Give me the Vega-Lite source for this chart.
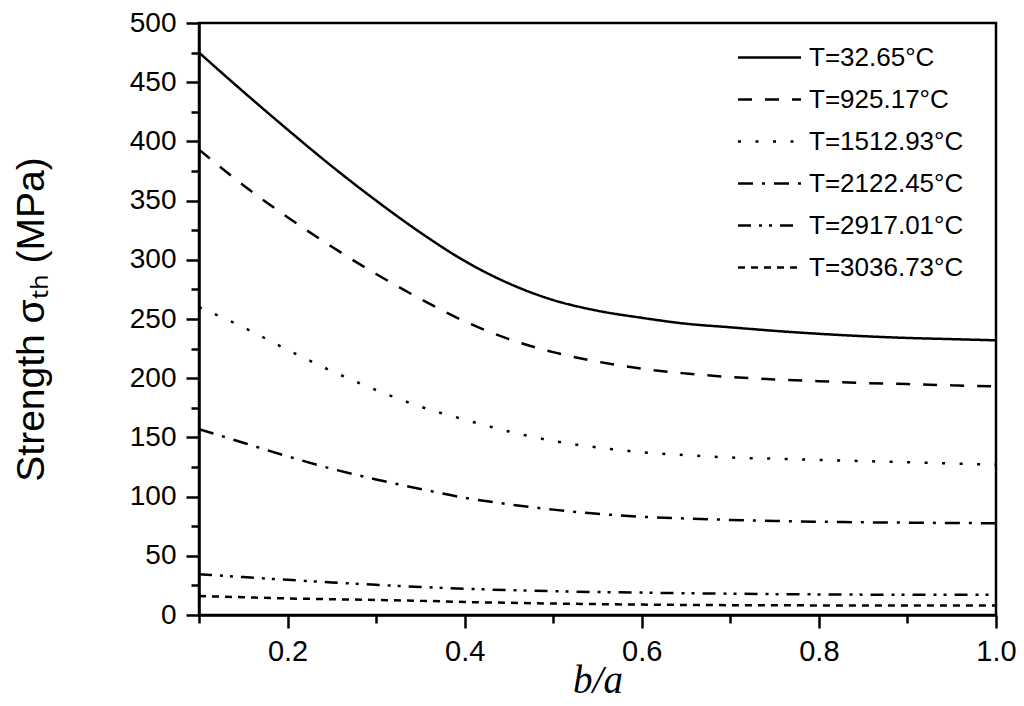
{
  "$schema": "https://vega.github.io/schema/vega-lite/v6.json",
  "autosize": "none",
  "padding": {"left": 199, "top": 23, "right": 28, "bottom": 91},
  "width": 797,
  "height": 592,
  "background": "white",
  "data": {
    "values": [
      {"ba": 0.10, "sigma": 475, "T": "T=32.65°C"},
      {"ba": 0.15, "sigma": 442, "T": "T=32.65°C"},
      {"ba": 0.20, "sigma": 410, "T": "T=32.65°C"},
      {"ba": 0.25, "sigma": 379, "T": "T=32.65°C"},
      {"ba": 0.30, "sigma": 350, "T": "T=32.65°C"},
      {"ba": 0.35, "sigma": 323, "T": "T=32.65°C"},
      {"ba": 0.40, "sigma": 299, "T": "T=32.65°C"},
      {"ba": 0.45, "sigma": 280, "T": "T=32.65°C"},
      {"ba": 0.50, "sigma": 266, "T": "T=32.65°C"},
      {"ba": 0.55, "sigma": 257, "T": "T=32.65°C"},
      {"ba": 0.60, "sigma": 251, "T": "T=32.65°C"},
      {"ba": 0.65, "sigma": 246, "T": "T=32.65°C"},
      {"ba": 0.70, "sigma": 243, "T": "T=32.65°C"},
      {"ba": 0.75, "sigma": 240, "T": "T=32.65°C"},
      {"ba": 0.80, "sigma": 237.5, "T": "T=32.65°C"},
      {"ba": 0.85, "sigma": 235.5, "T": "T=32.65°C"},
      {"ba": 0.90, "sigma": 234, "T": "T=32.65°C"},
      {"ba": 0.95, "sigma": 233, "T": "T=32.65°C"},
      {"ba": 1.00, "sigma": 232, "T": "T=32.65°C"},

      {"ba": 0.10, "sigma": 393, "T": "T=925.17°C"},
      {"ba": 0.15, "sigma": 363, "T": "T=925.17°C"},
      {"ba": 0.20, "sigma": 336, "T": "T=925.17°C"},
      {"ba": 0.25, "sigma": 311, "T": "T=925.17°C"},
      {"ba": 0.30, "sigma": 288, "T": "T=925.17°C"},
      {"ba": 0.35, "sigma": 267, "T": "T=925.17°C"},
      {"ba": 0.40, "sigma": 248, "T": "T=925.17°C"},
      {"ba": 0.45, "sigma": 233, "T": "T=925.17°C"},
      {"ba": 0.50, "sigma": 222, "T": "T=925.17°C"},
      {"ba": 0.55, "sigma": 214, "T": "T=925.17°C"},
      {"ba": 0.60, "sigma": 208, "T": "T=925.17°C"},
      {"ba": 0.65, "sigma": 204, "T": "T=925.17°C"},
      {"ba": 0.70, "sigma": 201, "T": "T=925.17°C"},
      {"ba": 0.75, "sigma": 199, "T": "T=925.17°C"},
      {"ba": 0.80, "sigma": 197.5, "T": "T=925.17°C"},
      {"ba": 0.85, "sigma": 196, "T": "T=925.17°C"},
      {"ba": 0.90, "sigma": 195, "T": "T=925.17°C"},
      {"ba": 0.95, "sigma": 194, "T": "T=925.17°C"},
      {"ba": 1.00, "sigma": 193, "T": "T=925.17°C"},

      {"ba": 0.10, "sigma": 260, "T": "T=1512.93°C"},
      {"ba": 0.15, "sigma": 243, "T": "T=1512.93°C"},
      {"ba": 0.20, "sigma": 224, "T": "T=1512.93°C"},
      {"ba": 0.25, "sigma": 206, "T": "T=1512.93°C"},
      {"ba": 0.30, "sigma": 190, "T": "T=1512.93°C"},
      {"ba": 0.35, "sigma": 176, "T": "T=1512.93°C"},
      {"ba": 0.40, "sigma": 165, "T": "T=1512.93°C"},
      {"ba": 0.45, "sigma": 155, "T": "T=1512.93°C"},
      {"ba": 0.50, "sigma": 147, "T": "T=1512.93°C"},
      {"ba": 0.55, "sigma": 141.5, "T": "T=1512.93°C"},
      {"ba": 0.60, "sigma": 137.5, "T": "T=1512.93°C"},
      {"ba": 0.65, "sigma": 135, "T": "T=1512.93°C"},
      {"ba": 0.70, "sigma": 133, "T": "T=1512.93°C"},
      {"ba": 0.75, "sigma": 132, "T": "T=1512.93°C"},
      {"ba": 0.80, "sigma": 131, "T": "T=1512.93°C"},
      {"ba": 0.85, "sigma": 130, "T": "T=1512.93°C"},
      {"ba": 0.90, "sigma": 129, "T": "T=1512.93°C"},
      {"ba": 0.95, "sigma": 128, "T": "T=1512.93°C"},
      {"ba": 1.00, "sigma": 127, "T": "T=1512.93°C"},

      {"ba": 0.10, "sigma": 157, "T": "T=2122.45°C"},
      {"ba": 0.15, "sigma": 145.5, "T": "T=2122.45°C"},
      {"ba": 0.20, "sigma": 134, "T": "T=2122.45°C"},
      {"ba": 0.25, "sigma": 123.5, "T": "T=2122.45°C"},
      {"ba": 0.30, "sigma": 114.5, "T": "T=2122.45°C"},
      {"ba": 0.35, "sigma": 106.5, "T": "T=2122.45°C"},
      {"ba": 0.40, "sigma": 99, "T": "T=2122.45°C"},
      {"ba": 0.45, "sigma": 93.5, "T": "T=2122.45°C"},
      {"ba": 0.50, "sigma": 89, "T": "T=2122.45°C"},
      {"ba": 0.55, "sigma": 85.5, "T": "T=2122.45°C"},
      {"ba": 0.60, "sigma": 83, "T": "T=2122.45°C"},
      {"ba": 0.65, "sigma": 81.5, "T": "T=2122.45°C"},
      {"ba": 0.70, "sigma": 80.3, "T": "T=2122.45°C"},
      {"ba": 0.75, "sigma": 79.4, "T": "T=2122.45°C"},
      {"ba": 0.80, "sigma": 78.8, "T": "T=2122.45°C"},
      {"ba": 0.85, "sigma": 78.3, "T": "T=2122.45°C"},
      {"ba": 0.90, "sigma": 78, "T": "T=2122.45°C"},
      {"ba": 0.95, "sigma": 77.7, "T": "T=2122.45°C"},
      {"ba": 1.00, "sigma": 77.5, "T": "T=2122.45°C"},

      {"ba": 0.10, "sigma": 34.5, "T": "T=2917.01°C"},
      {"ba": 0.15, "sigma": 32, "T": "T=2917.01°C"},
      {"ba": 0.20, "sigma": 29.7, "T": "T=2917.01°C"},
      {"ba": 0.25, "sigma": 27.5, "T": "T=2917.01°C"},
      {"ba": 0.30, "sigma": 25.5, "T": "T=2917.01°C"},
      {"ba": 0.35, "sigma": 23.7, "T": "T=2917.01°C"},
      {"ba": 0.40, "sigma": 22.2, "T": "T=2917.01°C"},
      {"ba": 0.45, "sigma": 21, "T": "T=2917.01°C"},
      {"ba": 0.50, "sigma": 20.1, "T": "T=2917.01°C"},
      {"ba": 0.55, "sigma": 19.4, "T": "T=2917.01°C"},
      {"ba": 0.60, "sigma": 18.9, "T": "T=2917.01°C"},
      {"ba": 0.65, "sigma": 18.4, "T": "T=2917.01°C"},
      {"ba": 0.70, "sigma": 18, "T": "T=2917.01°C"},
      {"ba": 0.75, "sigma": 17.6, "T": "T=2917.01°C"},
      {"ba": 0.80, "sigma": 17.4, "T": "T=2917.01°C"},
      {"ba": 0.85, "sigma": 17.2, "T": "T=2917.01°C"},
      {"ba": 0.90, "sigma": 17.1, "T": "T=2917.01°C"},
      {"ba": 0.95, "sigma": 17, "T": "T=2917.01°C"},
      {"ba": 1.00, "sigma": 17, "T": "T=2917.01°C"},

      {"ba": 0.10, "sigma": 16, "T": "T=3036.73°C"},
      {"ba": 0.15, "sigma": 15, "T": "T=3036.73°C"},
      {"ba": 0.20, "sigma": 14, "T": "T=3036.73°C"},
      {"ba": 0.25, "sigma": 13.3, "T": "T=3036.73°C"},
      {"ba": 0.30, "sigma": 12.7, "T": "T=3036.73°C"},
      {"ba": 0.35, "sigma": 12, "T": "T=3036.73°C"},
      {"ba": 0.40, "sigma": 11, "T": "T=3036.73°C"},
      {"ba": 0.45, "sigma": 10.3, "T": "T=3036.73°C"},
      {"ba": 0.50, "sigma": 9.7, "T": "T=3036.73°C"},
      {"ba": 0.55, "sigma": 9.2, "T": "T=3036.73°C"},
      {"ba": 0.60, "sigma": 8.8, "T": "T=3036.73°C"},
      {"ba": 0.65, "sigma": 8.5, "T": "T=3036.73°C"},
      {"ba": 0.70, "sigma": 8.3, "T": "T=3036.73°C"},
      {"ba": 0.75, "sigma": 8.2, "T": "T=3036.73°C"},
      {"ba": 0.80, "sigma": 8.1, "T": "T=3036.73°C"},
      {"ba": 0.85, "sigma": 8, "T": "T=3036.73°C"},
      {"ba": 0.90, "sigma": 8, "T": "T=3036.73°C"},
      {"ba": 0.95, "sigma": 8, "T": "T=3036.73°C"},
      {"ba": 1.00, "sigma": 8, "T": "T=3036.73°C"}
    ]
  },
  "mark": {"type": "line", "color": "black", "strokeWidth": 2.5, "interpolate": "monotone", "clip": true},
  "encoding": {
    "x": {
      "field": "ba",
      "type": "quantitative",
      "scale": {"domain": [0.1, 1.0], "nice": false, "zero": false},
      "axis": {
        "title": "b/a",
        "titleFont": "Liberation Serif",
        "titleFontStyle": "italic",
        "titleFontWeight": "normal",
        "titleFontSize": 39,
        "titlePadding": -5,
        "values": [0.1, 0.2, 0.3, 0.4, 0.5, 0.6, 0.7, 0.8, 0.9, 1.0],
        "format": ".1f",
        "labelExpr": "round(datum.value * 10) % 2 === 0 ? datum.label : ''",
        "tickSize": {"condition": {"test": "round(datum.value * 10) % 2 === 0", "value": 13}, "value": 8},
        "labelPadding": 9,
        "labelFontSize": 29
      }
    },
    "y": {
      "field": "sigma",
      "type": "quantitative",
      "scale": {"domain": [0, 500], "nice": false},
      "axis": {
        "title": "Strength σₜₕ (MPa)",
        "titleFont": "Liberation Sans",
        "titleFontWeight": "normal",
        "titleFontSize": 39,
        "titlePadding": 78,
        "values": [0, 25, 50, 75, 100, 125, 150, 175, 200, 225, 250, 275, 300, 325, 350, 375, 400, 425, 450, 475, 500],
        "labelExpr": "datum.value % 50 === 0 ? datum.label : ''",
        "tickSize": {"condition": {"test": "datum.value % 50 === 0", "value": 13}, "value": 8},
        "labelPadding": 10
      }
    },
    "strokeDash": {
      "field": "T",
      "type": "nominal",
      "scale": {
        "domain": ["T=32.65°C", "T=925.17°C", "T=1512.93°C", "T=2122.45°C", "T=2917.01°C", "T=3036.73°C"],
        "range": [[1, 0], [14, 13], [3, 14.5], [15, 9, 3, 9], [13, 8, 3, 7, 3, 8], [7, 6]]
      },
      "legend": {
        "title": null,
        "orient": "none",
        "legendX": 554,
        "legendY": 18,
        "padding": 0,
        "symbolType": "M-2.1,0H2.1",
        "symbolSize": 900,
        "symbolStrokeWidth": 2.5,
        "symbolStrokeColor": "black",
        "symbolFillColor": "transparent",
        "labelFont": "Liberation Sans",
        "labelFontSize": 26,
        "labelColor": "black",
        "labelOffset": 23,
        "rowPadding": 12,
        "labelLimit": 400
      }
    }
  },
  "config": {
    "view": {"stroke": "black", "strokeWidth": 2.5},
    "axis": {
      "grid": false,
      "domainColor": "black",
      "domainWidth": 2.5,
      "tickColor": "black",
      "tickWidth": 2.5,
      "labelFont": "Liberation Sans",
      "labelFontSize": 28,
      "labelColor": "black",
      "labelFlush": false,
      "labelOverlap": false,
      "titleColor": "black"
    }
  }
}
